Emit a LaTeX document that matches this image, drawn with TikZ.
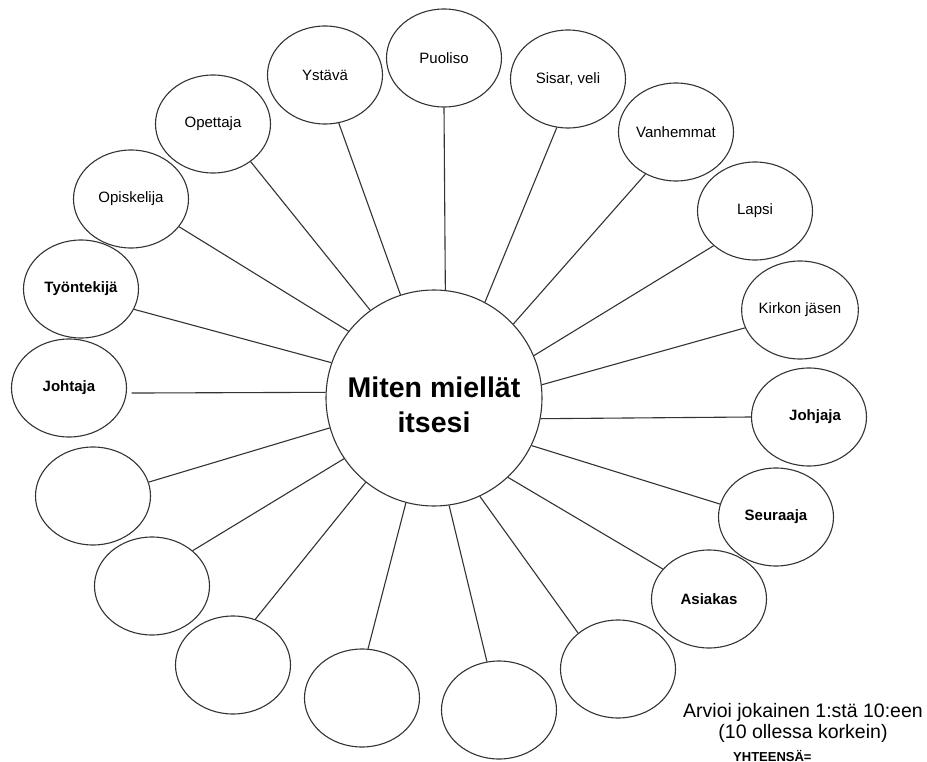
\documentclass[tikz,border=0pt]{standalone}
\usepackage{fontspec}
\setmainfont{Liberation Sans}
\usetikzlibrary{shapes.geometric}
\begin{document}
\begin{tikzpicture}[x=1pt,y=-1pt,
  bub/.style={draw=black!80, line width=1.1pt, ellipse, minimum width=115pt, minimum height=98pt, inner sep=0pt, font=\fontsize{15}{18}\selectfont},
  bubb/.style={bub, font=\fontsize{15}{18}\selectfont\bfseries},
  spoke/.style={draw=black!80, line width=1.1pt},
  ctext/.style={font=\fontsize{28.5}{35}\selectfont\bfseries, align=center, inner sep=0pt},
  note/.style={inner sep=0pt, font=\fontsize{19.5}{22}\selectfont},
  ]
\useasboundingbox (0,0) rectangle (927,762);
% centre
\node[circle, draw=black!80, line width=1.1pt, minimum size=216pt, inner sep=0pt,
      label={[ctext, yshift=-7pt]center:{Miten miellät\\itsesi}}] (c) at (434,398) {};
% bubbles
\node[bub]  (puoliso)    at (444,58)  {Puoliso};
\node[bub]  (ystava)     at (325,75)  {Ystävä};
\node[bub]  (opettaja)   at (213,124) {Opettaja};
\node[bub]  (opiskelija) at (131,199) {Opiskelija};
\node[bubb] (tyontekija) at (81,289)  {Työntekijä};
\node[bubb] (johtaja)    at (69,388)  {Johtaja};
\node[bub]  (b1) at (93,496)  {};
\node[bub]  (b2) at (152,586) {};
\node[bub]  (b3) at (233,665) {};
\node[bub]  (b4) at (362,698) {};
\node[bub]  (b5) at (499,710) {};
\node[bub]  (b6) at (618,669) {};
\node[bubb] (asiakas)    at (709,599) {Asiakas};
\node[bubb] (seuraaja)   at (776,517) {Seuraaja};
\node[bub, label={[font=\fontsize{15}{18}\selectfont\bfseries, xshift=6pt]center:Johjaja}] (johjaja) at (809,417) {};
\node[bub]  (kirkko)     at (800,310) {Kirkon jäsen};
\node[bub]  (lapsi)      at (755,211) {Lapsi};
\node[bub]  (vanhemmat)  at (676,132) {Vanhemmat};
\node[bub]  (sisar)      at (568,79)  {Sisar, veli};
% spokes
\draw[spoke] (puoliso.270)    -- (c.84.7);
\draw[spoke] (ystava.286.7)   -- (c.108.3);
\draw[spoke] (opettaja.315)   -- (c.126);
\draw[spoke] (opiskelija.330.4) -- (c.142);
\draw[spoke] (tyontekija.339.1) -- (c.161.7);
\draw[spoke, shorten <=5pt] (johtaja.355) -- (c.177.3);
\draw[spoke] (b1.14.9)  -- (c.196.3);
\draw[spoke] (b2.41.3)  -- (c.214.4);
\draw[spoke] (b3.64.4)  -- (c.231.4);
\draw[spoke] (b4.83)    -- (c.255);
\draw[spoke] (b5.104)   -- (c.278.7);
\draw[spoke] (b6.138.7) -- (c.295.3);
\draw[spoke] (asiakas.147.8)  -- (c.313.1);
\draw[spoke] (seuraaja.167.9) -- (c.334.9);
\draw[spoke] (johjaja.180)    -- (c.349.8);
\draw[spoke] (kirkko.198.4)   -- (c.7.8);
\draw[spoke] (lapsi.220.6)    -- (c.23.1);
\draw[spoke] (vanhemmat.234)  -- (c.43.9);
\draw[spoke] (sisar.257.8)    -- (c.62.5);
% notes
\node[note, anchor=base] (t1) at (803,717) {Arvioi jokainen 1:stä 10:een};
\node[note, anchor=base] (t2) at (803,738) {(10 ollessa korkein)};
\node[inner sep=0pt, anchor=base west, font=\fontsize{13}{15}\selectfont\bfseries] (t3) at (733,761) {YHTEENSÄ=};
\end{tikzpicture}
\end{document}
